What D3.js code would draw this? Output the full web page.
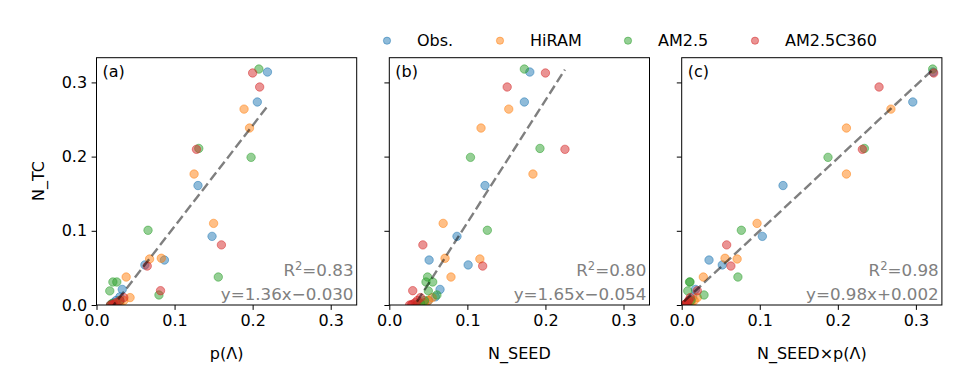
<!DOCTYPE html>
<html><head><meta charset="utf-8">
<script src="https://cdn.jsdelivr.net/npm/d3@7"></script>
<style>body{margin:0;background:#fff;} text{font-family:"DejaVu Sans",sans-serif;}</style>
</head><body>
<svg id="chart" width="960" height="384"></svg>
<script>
const seriesNames = ["Obs.", "HiRAM", "AM2.5", "AM2.5C360"];
const seriesColors = ["#1f77b4", "#ff7f0e", "#2ca02c", "#d62728"];

// N_TC (y) per series
const nTC_obs   = [0.314, 0.2736, 0.161, 0.0925, 0.0606, 0.054, 0.021, 0.011, 0.006, 0.003, 0.001, 0.000];
const nTC_hiram = [0.264, 0.2385, 0.1765, 0.110, 0.063, 0.062, 0.0377, 0.010, 0.006, 0.003, 0.001, 0.000];
const nTC_am25  = [0.318, 0.211, 0.199, 0.1007, 0.0377, 0.031, 0.031, 0.019, 0.0135, 0.006, 0.002, 0.000];
const nTC_c360  = [0.3127, 0.2938, 0.2098, 0.081, 0.0525, 0.0193, 0.010, 0.006, 0.003, 0.001, 0.000, 0.000];

// p(Lambda) per series
const pLam_obs   = [0.219, 0.206, 0.130, 0.148, 0.087, 0.062, 0.033, 0.030, 0.025, 0.022, 0.020, 0.018];
const pLam_hiram = [0.189, 0.196, 0.125, 0.150, 0.083, 0.068, 0.038, 0.043, 0.035, 0.030, 0.025, 0.022];
const pLam_am25  = [0.208, 0.131, 0.198, 0.066, 0.156, 0.021, 0.026, 0.017, 0.080, 0.030, 0.020, 0.018];
const pLam_c360  = [0.200, 0.209, 0.128, 0.160, 0.065, 0.082, 0.035, 0.030, 0.025, 0.022, 0.020, 0.018];

// N_SEED per series
const nSeed_obs   = [0.180, 0.173, 0.1226, 0.0867, 0.051, 0.101, 0.065, 0.059, 0.050, 0.045, 0.040, 0.035];
const nSeed_hiram = [0.153, 0.1175, 0.184, 0.069, 0.0714, 0.116, 0.079, 0.055, 0.050, 0.045, 0.040, 0.035];
const nSeed_am25  = [0.173, 0.193, 0.104, 0.1256, 0.049, 0.0556, 0.047, 0.050, 0.061, 0.045, 0.040, 0.035];
const nSeed_c360  = [0.200, 0.151, 0.225, 0.043, 0.1196, 0.030, 0.040, 0.036, 0.033, 0.030, 0.028, 0.026];

// N_SEED x p(Lambda) per series
const prod_obs   = [0.322, 0.296, 0.1298, 0.1033, 0.035, 0.052, 0.0176, 0.014, 0.010, 0.008, 0.0065, 0.005];
const prod_hiram = [0.268, 0.211, 0.211, 0.0965, 0.0555, 0.071, 0.0277, 0.020, 0.016, 0.012, 0.009, 0.007];
const prod_am25  = [0.3215, 0.234, 0.1874, 0.0764, 0.072, 0.0107, 0.010, 0.0078, 0.0286, 0.012, 0.007, 0.005];
const prod_c360  = [0.3228, 0.2528, 0.2314, 0.0576, 0.063, 0.020, 0.011, 0.009, 0.007, 0.005, 0.004, 0.003];

const nTC = [nTC_obs, nTC_hiram, nTC_am25, nTC_c360];
const panelX = [
  [pLam_obs, pLam_hiram, pLam_am25, pLam_c360],
  [nSeed_obs, nSeed_hiram, nSeed_am25, nSeed_c360],
  [prod_obs, prod_hiram, prod_am25, prod_c360]
];
const panelLabels = ["(a)", "(b)", "(c)"];
const xLabels = ["p(Λ)", "N_SEED", "N_SEED×p(Λ)"];
const fitSlope = [1.36, 1.65, 0.98];
const fitIntercept = [-0.030, -0.054, 0.002];
const r2Text = ["0.83", "0.80", "0.98"];
const fitText = ["y=1.36x−0.030", "y=1.65x−0.054", "y=0.98x+0.002"];
const tickValues = [0.0, 0.1, 0.2, 0.3];
const axisMax = 0.3333;

const svg = d3.select("#chart");
const panelLeft = [96.5, 389.3, 681.7];
const panelW = 260.2, plotTop = 57.7, plotBottom = 305;

panelLeft.forEach((left, p) => {
  const x = d3.scaleLinear().domain([0, axisMax]).range([left, left + panelW]);
  const y = d3.scaleLinear().domain([0, axisMax]).range([plotBottom, plotTop]);
  const g = svg.append("g");
  const clipId = "clip" + p;
  svg.append("clipPath").attr("id", clipId).append("rect")
    .attr("x", left).attr("y", plotTop).attr("width", panelW).attr("height", plotBottom - plotTop);
  const plot = g.append("g").attr("clip-path", `url(#${clipId})`);
  seriesNames.forEach((s, si) => {
    const xs = panelX[p][si], ys = nTC[si];
    plot.append("g").selectAll("circle").data(xs.map((v, i) => [v, ys[i]])).enter()
      .append("circle")
      .attr("cx", d => x(d[0])).attr("cy", d => y(d[1])).attr("r", 4.2)
      .attr("fill", seriesColors[si]).attr("fill-opacity", 0.5)
      .attr("stroke", seriesColors[si]).attr("stroke-opacity", 0.5).attr("stroke-width", 1);
  });
  const allX = panelX[p].flat();
  const x0 = d3.min(allX), x1 = d3.max(allX);
  const line = d3.line().x(d => x(d)).y(d => y(fitSlope[p] * d + fitIntercept[p]));
  plot.append("path").attr("d", line([x0, x1])).attr("fill", "none")
    .attr("stroke", "#000").attr("stroke-opacity", 0.5).attr("stroke-width", 2.4)
    .attr("stroke-dasharray", "9.5,4.2");

  const xAxis = d3.axisBottom(x).tickValues(tickValues).tickFormat(d3.format(".1f")).tickSize(4.9).tickPadding(4.5);
  const gx = g.append("g").attr("transform", `translate(0,${plotBottom})`).call(xAxis);
  const yAxis = d3.axisLeft(y).tickValues(tickValues).tickFormat(p === 0 ? d3.format(".1f") : () => "").tickSize(4.9).tickPadding(4.5);
  const gy = g.append("g").attr("transform", `translate(${left},0)`).call(yAxis);
  [gx, gy].forEach(a => {
    a.select(".domain").remove();
    a.selectAll("line").attr("stroke", "#000").attr("stroke-width", 1);
    a.selectAll("text").attr("font-size", 16).attr("fill", "#000").attr("font-family", "DejaVu Sans");
  });
  g.append("rect").attr("x", left).attr("y", plotTop).attr("width", panelW).attr("height", plotBottom - plotTop)
    .attr("fill", "none").attr("stroke", "#000").attr("stroke-width", 1);

  g.append("text").attr("x", left + 6).attr("y", 77).attr("font-size", 16).text(panelLabels[p]);
  g.append("text").attr("x", left + panelW / 2).attr("y", 359).attr("text-anchor", "middle")
    .attr("font-size", 16).text(xLabels[p]);

  const r2 = g.append("text").attr("x", left + panelW - 3.2).attr("y", 276).attr("text-anchor", "end")
    .attr("font-size", 16.7).attr("fill", "#808080");
  r2.append("tspan").text("R");
  r2.append("tspan").attr("font-size", 11.5).attr("dy", -6).text("2");
  r2.append("tspan").attr("dy", 6).text("=" + r2Text[p]);
  g.append("text").attr("x", left + panelW - 3.2).attr("y", 300).attr("text-anchor", "end")
    .attr("font-size", 16.7).attr("fill", "#808080").text(fitText[p]);
});

svg.append("text").attr("transform", "translate(44,181) rotate(-90)").attr("text-anchor", "middle")
  .attr("font-size", 16).text("N_TC");

const legendX = [387, 500, 628, 755];
seriesNames.forEach((s, i) => {
  svg.append("circle").attr("cx", legendX[i]).attr("cy", 40.7).attr("r", 3.6)
    .attr("fill", seriesColors[i]).attr("fill-opacity", 0.5)
    .attr("stroke", seriesColors[i]).attr("stroke-opacity", 0.5).attr("stroke-width", 1);
  svg.append("text").attr("x", legendX[i] + 30).attr("y", 46.3).attr("font-size", 16).text(s);
});
</script>
</body></html>
